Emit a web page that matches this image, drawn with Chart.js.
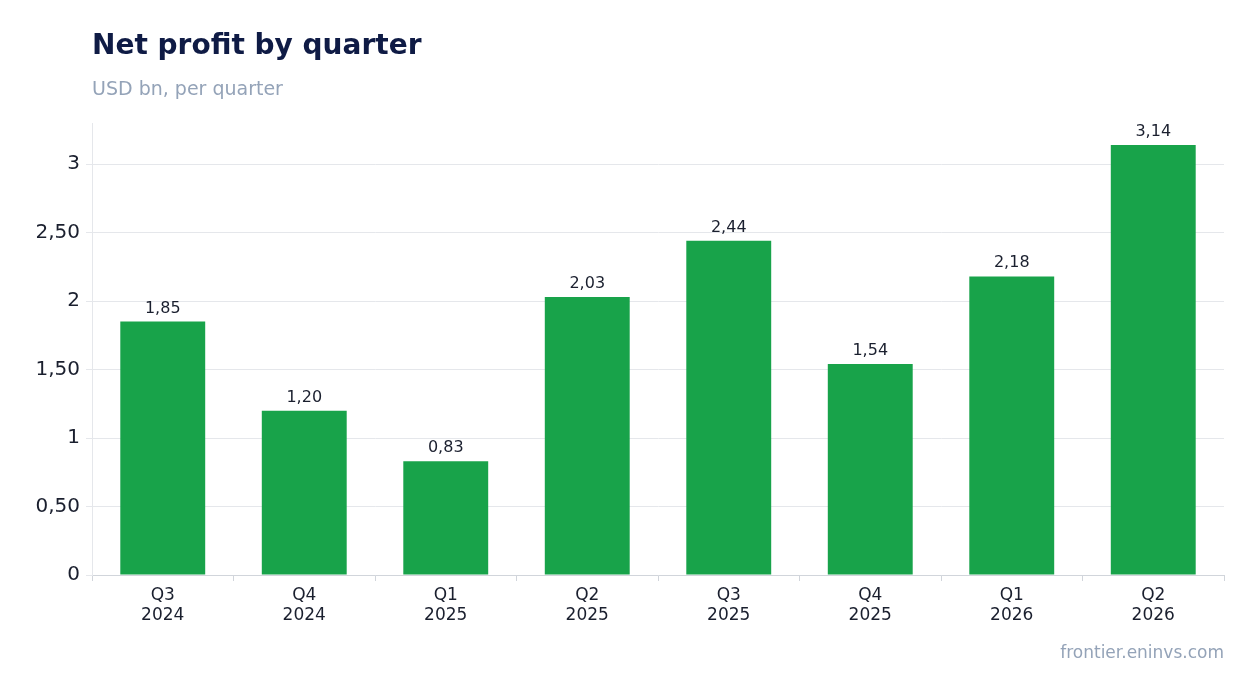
<!DOCTYPE html>
<html><head><meta charset="utf-8">
<script src="https://cdn.jsdelivr.net/npm/chart.js@4/dist/chart.umd.min.js"></script>
<style>html,body{margin:0;padding:0;background:#fff;}#w{position:relative;width:1254px;height:693px;}</style>
</head><body><div id="w"><canvas id="c" width="1254" height="693"></canvas></div>
<script>
const categories = [["Q3","2024"],["Q4","2024"],["Q1","2025"],["Q2","2025"],["Q3","2025"],["Q4","2025"],["Q1","2026"],["Q2","2026"]];
const profit = [1.85, 1.20, 0.83, 2.03, 2.44, 1.54, 2.18, 3.14];
const yTicks = [0, 0.5, 1, 1.5, 2, 2.5, 3];
const FONT = "'DejaVu Sans', sans-serif";
const fmt = v => Number.isInteger(v) ? String(v) : v.toFixed(2).replace('.', ',');

const deco = {
  id: 'deco',
  afterDraw(chart) {
    const ctx = chart.ctx;
    ctx.save();
    ctx.textBaseline = 'alphabetic';
    ctx.fillStyle = '#0f1b45'; ctx.font = 'bold 28px ' + FONT; ctx.textAlign = 'left';
    ctx.fillText('Net profit by quarter', 92, 54);
    ctx.fillStyle = '#94a3b8'; ctx.font = '19px ' + FONT;
    ctx.fillText('USD bn, per quarter', 92, 95);
    ctx.textAlign = 'right'; ctx.font = '17px ' + FONT;
    ctx.fillText('frontier.eninvs.com', 1224, 658);
    const meta = chart.getDatasetMeta(0);
    ctx.fillStyle = '#1a1f2e'; ctx.font = '16px ' + FONT; ctx.textAlign = 'center';
    meta.data.forEach((b, i) => ctx.fillText(fmt(profit[i]), b.x, b.y - 9));
    ctx.restore();
  }
};

new Chart(document.getElementById('c'), {
  type: 'bar',
  data: { labels: categories, datasets: [{ data: profit, backgroundColor: '#18a34a', categoryPercentage: 1, barPercentage: 0.6 }] },
  options: {
    responsive: false, animation: false,
    layout: { padding: { top: 123, right: 30, left: 0, bottom: 0 } },
    plugins: { legend: { display: false }, tooltip: { enabled: false } },
    scales: {
      x: {
        grid: { drawOnChartArea: false, drawTicks: true, tickLength: 6, color: '#d1d5db' },
        border: { color: '#d1d5db' },
        ticks: { color: '#1a1f2e', font: { family: FONT, size: 17 }, padding: 4 },
        afterFit(s) { s.height = 118; }
      },
      y: {
        min: 0, max: 3.3,
        afterBuildTicks(s) { s.ticks = yTicks.map(v => ({ value: v })); },
        grid: { color: '#e5e7eb', drawTicks: true, tickLength: 6 },
        border: { color: '#e5e7eb' },
        ticks: { color: '#1a1f2e', font: { family: FONT, size: 20 }, padding: 6, callback: v => fmt(v) },
        afterFit(s) { s.width = 92; }
      }
    }
  },
  plugins: [deco]
});
</script></body></html>
